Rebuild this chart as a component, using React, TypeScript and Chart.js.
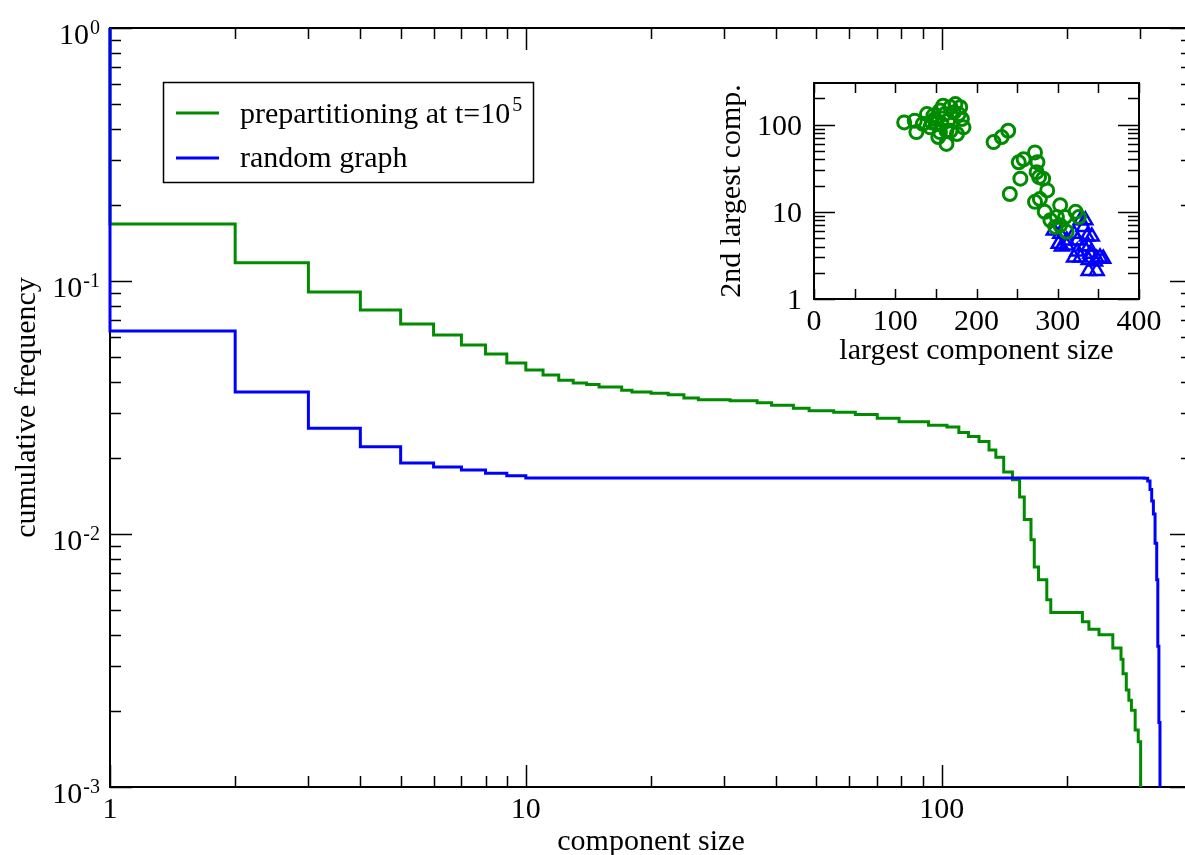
import React, { useEffect, useRef } from "react";
import { Chart, registerables } from "chart.js";

Chart.register(...registerables);

const GREEN = "rgb(0,139,0)";
const BLUE = "rgb(0,0,255)";
const SERIF = '"Liberation Serif", "Times New Roman", serif';

// ---------- main chart data (cumulative frequency vs component size) ----------
const prepartSize = [
  1, 1, 2, 3, 4, 5, 6, 7, 8, 9, 10, 11, 12, 13, 14, 15, 17, 18, 20, 22, 24, 26,
  31, 36, 39, 44, 48, 55, 62, 70, 79, 93, 103, 110, 116, 123, 130, 135, 141,
  148, 154, 158, 164, 167, 171, 179, 183, 218, 226, 239, 258, 270, 273, 278,
  282, 286, 292, 297, 301,
];
const prepartFreq = [
  1, 0.168, 0.118, 0.0905, 0.0768, 0.0676, 0.0612, 0.0559, 0.0515, 0.0474,
  0.0445, 0.0425, 0.0405, 0.0395, 0.039, 0.0381, 0.037, 0.0364, 0.036, 0.0355,
  0.0345, 0.0339, 0.0336, 0.033, 0.0323, 0.0314, 0.0307, 0.0303, 0.0297,
  0.0287, 0.0278, 0.0269, 0.0265, 0.0252, 0.0243, 0.0232, 0.0215, 0.0201,
  0.0176, 0.0164, 0.014, 0.0114, 0.0095, 0.0074, 0.0066, 0.0055, 0.0049,
  0.0045, 0.0042, 0.004, 0.00354, 0.0032, 0.0028, 0.00242, 0.0022, 0.00201,
  0.00168, 0.00151, 0.0005,
];

const randomSize = [
  1, 1, 2, 3, 4, 5, 6, 7, 8, 9, 10, 307, 313, 317, 320, 323, 326, 329, 331,
  333, 335,
];
const randomFreq = [
  1, 0.0634, 0.0364, 0.0262, 0.0221, 0.0191, 0.0184, 0.0179, 0.0174, 0.017,
  0.01666, 0.0166, 0.0162, 0.015, 0.0135, 0.012, 0.0092, 0.0066, 0.0036,
  0.0018, 0.0007,
];

const mainXMajor = [1, 10, 100];
const mainXLabels = ["1", "10", "100"];
const mainXMinor = [2, 3, 4, 5, 6, 7, 8, 9, 20, 30, 40, 50, 60, 70, 80, 90, 200, 300];
const mainYMajor = [0.001, 0.01, 0.1, 1];
const mainYExponents = ["-3", "-2", "-1", "0"];
const mainYMinor = [
  0.002, 0.003, 0.004, 0.005, 0.006, 0.007, 0.008, 0.009,
  0.02, 0.03, 0.04, 0.05, 0.06, 0.07, 0.08, 0.09,
  0.2, 0.3, 0.4, 0.5, 0.6, 0.7, 0.8, 0.9,
];

// ---------- inset data (2nd largest vs largest component) ----------
const prepartLargest = [
  111, 126, 124, 134, 139, 143, 147, 151, 153, 155, 157, 159, 163, 161, 165,
  163, 168, 172, 174, 178, 180, 176, 182, 184, 168, 155, 149, 145, 221, 231,
  239, 252, 258, 254, 241, 272, 275, 277, 282, 287, 272, 278, 284, 291, 303,
  299, 303, 311, 322, 326, 309, 297, 274,
];
const prepartSecond = [
  106, 82, 111, 102, 132, 93, 127, 102, 72, 145, 102, 165, 85, 132, 111, 60,
  158, 138, 172, 132, 158, 78, 116, 93, 85, 82, 116, 106, 63, 72, 85, 37, 40,
  24, 16, 48, 37, 25, 24, 17.6, 13, 14, 10, 8, 11.9, 8.7, 7, 5.9, 10, 8.7, 8.7,
  6.7, 28.5,
];
const randomLargest = [
  295, 303, 301, 311, 320, 328, 332, 336, 338, 340, 328, 342, 332, 324, 320,
  338, 352, 348, 338, 348, 346, 311, 305, 324, 334, 356,
];
const randomSecond = [
  6.1, 5.6, 4.3, 4.1, 5.6, 8.0, 6.7, 5.2, 4.0, 3.3, 3.0, 5.2, 4.0, 4.7, 3.0,
  2.8, 3.0, 2.9, 2.1, 2.1, 2.7, 4.7, 4.0, 3.5, 8.0, 2.9,
];

const insetXMajor = [0, 100, 200, 300, 400];
const insetXLabels = ["0", "100", "200", "300", "400"];
const insetXMinor = [50, 150, 250, 350];
const insetYMajor = [1, 10, 100];
const insetYLabels = ["1", "10", "100"];
const insetYMinor = [2, 3, 4, 5, 6, 7, 8, 9, 20, 30, 40, 50, 60, 70, 80, 90, 200];

const toPoints = (xs: number[], ys: number[]) => xs.map((x, i) => ({ x, y: ys[i] }));

const mainAxesPlugin = {
  id: "mainAxes",
  beforeDatasetsDraw(chart: any) {
    const { ctx, chartArea: a, scales } = chart;
    const x = scales.x;
    const y = scales.y;
    ctx.save();
    ctx.strokeStyle = "#000";
    ctx.lineWidth = 1.5;
    ctx.beginPath();
    const xt = (vals: number[], len: number) => {
      for (const v of vals) {
        const p = Math.round(x.getPixelForValue(v)) + 0.5;
        ctx.moveTo(p, a.bottom);
        ctx.lineTo(p, a.bottom - len);
        ctx.moveTo(p, a.top);
        ctx.lineTo(p, a.top + len);
      }
    };
    const yt = (vals: number[], len: number) => {
      for (const v of vals) {
        const p = Math.round(y.getPixelForValue(v)) + 0.5;
        ctx.moveTo(a.left, p);
        ctx.lineTo(a.left + len, p);
        ctx.moveTo(a.right, p);
        ctx.lineTo(a.right - len, p);
      }
    };
    xt(mainXMajor, 22);
    xt(mainXMinor, 11);
    yt(mainYMajor, 22);
    yt(mainYMinor, 11);
    ctx.stroke();
    ctx.lineWidth = 2;
    ctx.strokeRect(a.left, a.top, a.right - a.left, a.bottom - a.top);

    ctx.fillStyle = "#000";
    ctx.textBaseline = "alphabetic";
    ctx.textAlign = "center";
    ctx.font = `30px ${SERIF}`;
    mainXMajor.forEach((v, i) => {
      ctx.fillText(mainXLabels[i], x.getPixelForValue(v), a.bottom + 31);
    });
    ctx.textAlign = "right";
    mainYMajor.forEach((v, i) => {
      const p = y.getPixelForValue(v);
      ctx.font = `20px ${SERIF}`;
      const sw = ctx.measureText(mainYExponents[i]).width;
      ctx.fillText(mainYExponents[i], a.left - 10, p + 6);
      ctx.font = `30px ${SERIF}`;
      ctx.fillText("10", a.left - 10 - sw - 1, p + 16);
    });

    ctx.font = `30px ${SERIF}`;
    ctx.textAlign = "center";
    ctx.fillText("component size", (a.left + a.right) / 2, a.bottom + 63);
    ctx.save();
    ctx.translate(35, (a.top + a.bottom) / 2);
    ctx.rotate(-Math.PI / 2);
    ctx.fillText("cumulative frequency", 0, 0);
    ctx.restore();
    ctx.restore();
  },
  afterDraw(chart: any) {
    const { ctx } = chart;
    ctx.save();
    // legend box
    ctx.fillStyle = "#fff";
    ctx.fillRect(163, 82, 370, 100);
    ctx.strokeStyle = "#000";
    ctx.lineWidth = 1.5;
    ctx.strokeRect(163.5, 82.5, 370, 100);
    ctx.lineWidth = 3;
    ctx.strokeStyle = GREEN;
    ctx.beginPath();
    ctx.moveTo(176, 113);
    ctx.lineTo(219, 113);
    ctx.stroke();
    ctx.strokeStyle = BLUE;
    ctx.beginPath();
    ctx.moveTo(176, 158);
    ctx.lineTo(219, 158);
    ctx.stroke();
    ctx.fillStyle = "#000";
    ctx.textAlign = "left";
    ctx.textBaseline = "alphabetic";
    ctx.font = `30px ${SERIF}`;
    const t1 = "prepartitioning at t=10";
    ctx.fillText(t1, 240, 123);
    const w1 = ctx.measureText(t1).width;
    ctx.font = `20px ${SERIF}`;
    ctx.fillText("5", 240 + w1 + 2, 111);
    ctx.font = `30px ${SERIF}`;
    ctx.fillText("random graph", 240, 167);
    ctx.restore();
  },
};

const insetAxesPlugin = {
  id: "insetAxes",
  beforeDatasetsDraw(chart: any) {
    const { ctx, chartArea: a, scales } = chart;
    const x = scales.x;
    const y = scales.y;
    ctx.save();
    ctx.fillStyle = "#fff";
    ctx.fillRect(a.left, a.top, a.right - a.left, a.bottom - a.top);
    ctx.strokeStyle = "#000";
    ctx.lineWidth = 1.5;
    ctx.beginPath();
    const xt = (vals: number[], len: number) => {
      for (const v of vals) {
        const p = Math.round(x.getPixelForValue(v)) + 0.5;
        ctx.moveTo(p, a.bottom);
        ctx.lineTo(p, a.bottom - len);
        ctx.moveTo(p, a.top);
        ctx.lineTo(p, a.top + len);
      }
    };
    const yt = (vals: number[], len: number) => {
      for (const v of vals) {
        const p = Math.round(y.getPixelForValue(v)) + 0.5;
        ctx.moveTo(a.left, p);
        ctx.lineTo(a.left + len, p);
        ctx.moveTo(a.right, p);
        ctx.lineTo(a.right - len, p);
      }
    };
    xt(insetXMajor, 10);
    xt(insetXMinor, 10);
    yt(insetYMajor, 21);
    yt(insetYMinor, 11);
    ctx.stroke();
    ctx.lineWidth = 2;
    ctx.strokeRect(a.left, a.top, a.right - a.left, a.bottom - a.top);

    ctx.fillStyle = "#000";
    ctx.textBaseline = "alphabetic";
    ctx.font = `30px ${SERIF}`;
    ctx.textAlign = "center";
    insetXMajor.forEach((v, i) => {
      ctx.fillText(insetXLabels[i], x.getPixelForValue(v), a.bottom + 31);
    });
    ctx.textAlign = "right";
    insetYMajor.forEach((v, i) => {
      ctx.fillText(insetYLabels[i], a.left - 12, y.getPixelForValue(v) + 10);
    });
    ctx.font = `30px ${SERIF}`;
    ctx.textAlign = "center";
    ctx.fillText("largest component size", (a.left + a.right) / 2, a.bottom + 60);
    ctx.save();
    ctx.translate(40, (a.top + a.bottom) / 2);
    ctx.rotate(-Math.PI / 2);
    ctx.fillText("2nd largest comp.", 0, 0);
    ctx.restore();
    ctx.restore();
  },
};

export default function App() {
  const mainRef = useRef<HTMLCanvasElement | null>(null);
  const insetRef = useRef<HTMLCanvasElement | null>(null);

  useEffect(() => {
    if (!mainRef.current || !insetRef.current) return;
    const main = new Chart(mainRef.current, {
      type: "line",
      data: {
        datasets: [
          {
            label: "random graph",
            data: toPoints(randomSize, randomFreq),
            borderColor: BLUE,
            borderWidth: 3,
            pointRadius: 0,
            stepped: true,
            fill: false,
            order: 0,
            clip: { left: 4, top: 3, right: 0, bottom: 0 },
          } as any,
          {
            label: "prepartitioning at t=10^5",
            data: toPoints(prepartSize, prepartFreq),
            borderColor: GREEN,
            borderWidth: 3,
            pointRadius: 0,
            stepped: true,
            fill: false,
            order: 1,
            clip: { left: 4, top: 3, right: 0, bottom: 0 },
          } as any,
        ],
      },
      options: {
        responsive: false,
        animation: false,
        devicePixelRatio: 1,
        events: [],
        layout: { padding: { left: 110, top: 28, right: 8, bottom: 68 } },
        plugins: { legend: { display: false }, tooltip: { enabled: false } },
        scales: {
          x: { type: "logarithmic", min: 1, max: 400, display: false },
          y: { type: "logarithmic", min: 0.001, max: 1, display: false },
        },
      },
      plugins: [mainAxesPlugin],
    });

    const inset = new Chart(insetRef.current, {
      type: "scatter",
      data: {
        datasets: [
          {
            label: "prepartitioning",
            data: toPoints(prepartLargest, prepartSecond),
            borderColor: GREEN,
            backgroundColor: "rgba(0,0,0,0)",
            borderWidth: 3,
            pointRadius: 6.5,
            pointStyle: "circle",
            order: 0,
            clip: false,
          } as any,
          {
            label: "random graph",
            data: toPoints(randomLargest, randomSecond),
            borderColor: BLUE,
            backgroundColor: "rgba(0,0,0,0)",
            borderWidth: 2.5,
            pointRadius: 8,
            pointStyle: "triangle",
            order: 1,
            clip: false,
          } as any,
        ],
      },
      options: {
        responsive: false,
        animation: false,
        devicePixelRatio: 1,
        events: [],
        layout: { padding: { left: 114, top: 43, right: 41, bottom: 81 } },
        plugins: { legend: { display: false }, tooltip: { enabled: false } },
        scales: {
          x: { type: "linear", min: 0, max: 400, display: false },
          y: { type: "logarithmic", min: 1, max: 300, display: false },
        },
      },
      plugins: [insetAxesPlugin],
    });

    return () => {
      main.destroy();
      inset.destroy();
    };
  }, []);

  return (
    <div
      style={{
        position: "fixed",
        left: 0,
        top: 0,
        width: 1185,
        height: 855,
        overflow: "hidden",
        background: "#fff",
      }}
    >
      <canvas
        ref={mainRef}
        width={1200}
        height={855}
        style={{ position: "absolute", left: 0, top: 0, width: 1200, height: 855 }}
      />
      <canvas
        ref={insetRef}
        width={480}
        height={340}
        style={{ position: "absolute", left: 700, top: 40, width: 480, height: 340 }}
      />
    </div>
  );
}
